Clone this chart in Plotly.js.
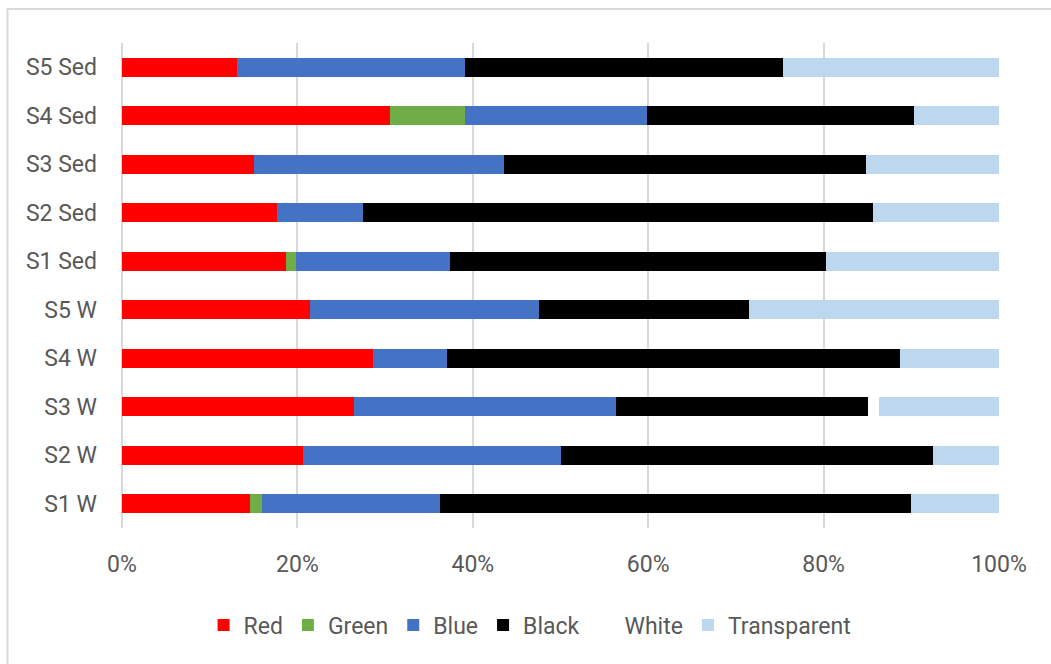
<!DOCTYPE html>
<html>
<head>
<meta charset="utf-8">
<script src="https://cdn.plot.ly/plotly-3.0.1.min.js"></script>
<style>
  html, body { margin: 0; padding: 0; background: #ffffff; }
  #chart { width: 1051px; height: 664px; }
</style>
</head>
<body>
<div id="chart"></div>
<script>
// Sampling sites, bottom to top
const sites = ['S1 W', 'S2 W', 'S3 W', 'S4 W', 'S5 W',
               'S1 Sed', 'S2 Sed', 'S3 Sed', 'S4 Sed', 'S5 Sed'];

// Share of each colour class per site (%)
const red         = [14.6, 20.6, 26.5, 28.6, 21.4, 18.7, 17.7, 15.1, 30.6, 13.1];
const green       = [ 1.4,  0.0,  0.0,  0.0,  0.0,  1.1,  0.0,  0.0,  8.5,  0.0];
const blue        = [20.3, 29.5, 29.8,  8.5, 26.2, 17.6,  9.8, 28.4, 20.8, 26.0];
const black       = [53.7, 42.4, 28.8, 51.6, 23.9, 42.9, 58.1, 41.3, 30.4, 36.3];
const white       = [ 0.0,  0.0,  1.2,  0.0,  0.0,  0.0,  0.0,  0.0,  0.0,  0.0];
const transparent = [10.0,  7.5, 13.7, 11.3, 28.5, 19.7, 14.4, 15.2,  9.7, 24.6];

const seriesNames = ['Red', 'Green', 'Blue', 'Black', 'White', 'Transparent'];
const seriesValues = [red, green, blue, black, white, transparent];
const seriesColors = ['#ff0000', '#70ad47', '#4472c4', '#000000', '#ffffff', '#bdd7ee'];

const xTicks = [0, 20, 40, 60, 80, 100];

const traces = seriesNames.map((name, i) => ({
  type: 'bar',
  orientation: 'h',
  name: name,
  y: sites,
  x: seriesValues[i],
  marker: { color: seriesColors[i], line: { width: 0 } },
  hoverinfo: 'name+x'
}));

const textFont = { family: 'Roboto, "Open Sans", sans-serif', size: 23, color: '#595959' };

const layout = {
  width: 1051,
  height: 664,
  paper_bgcolor: '#ffffff',
  plot_bgcolor: '#ffffff',
  barmode: 'stack',
  bargap: 0.6,
  margin: { l: 122, r: 52, t: 43, b: 136 },
  font: textFont,
  xaxis: {
    range: [0, 100],
    tickvals: xTicks,
    ticktext: xTicks.map(v => v + '%'),
    showgrid: true,
    gridcolor: '#d9d9d9',
    gridwidth: 2,
    zeroline: true,
    zerolinecolor: '#d9d9d9',
    zerolinewidth: 2,
    showline: false,
    ticks: '',
    ticklabelstandoff: 20,
    tickfont: textFont,
    fixedrange: true
  },
  yaxis: {
    type: 'category',
    showgrid: false,
    zeroline: false,
    showline: false,
    ticks: '',
    ticklabelstandoff: 24,
    tickfont: textFont,
    fixedrange: true
  },
  legend: {
    orientation: 'h',
    traceorder: 'normal',
    x: 0.093,
    xanchor: 'left',
    y: -0.2,
    yanchor: 'middle',
    font: textFont,
    itemclick: false,
    itemdoubleclick: false
  },
  shapes: [{
    type: 'rect',
    xref: 'paper', yref: 'paper',
    x0: -0.1306, x1: 1.3,
    y0: 1.070, y1: -0.5,
    line: { color: '#d9d9d9', width: 2 },
    fillcolor: 'rgba(0,0,0,0)',
    layer: 'below'
  }]
};

Plotly.newPlot('chart', traces, layout, { displayModeBar: false, staticPlot: true });
</script>
</body>
</html>
